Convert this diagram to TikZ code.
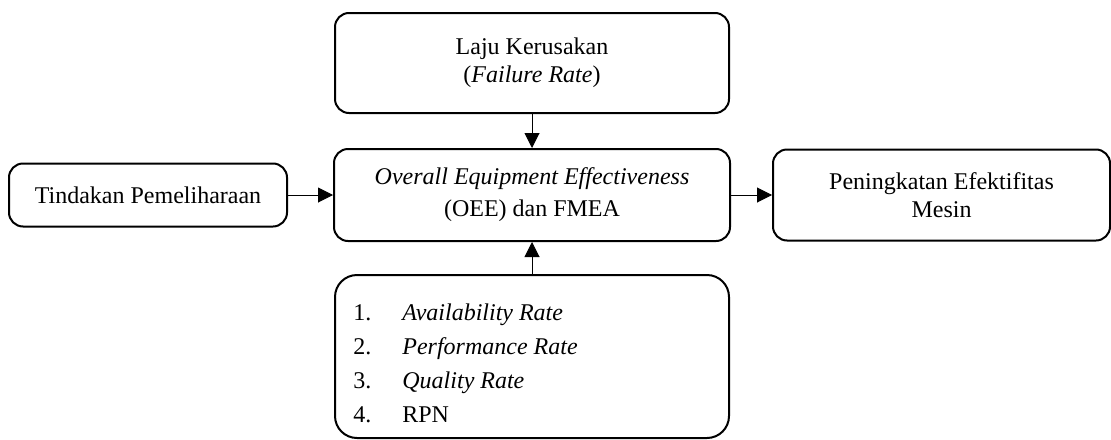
\documentclass[tikz,border=0pt]{standalone}
\usepackage{fontspec}
\setmainfont{Liberation Serif}
\usetikzlibrary{arrows.meta}

\tikzset{
  box/.style={draw, line width=1pt, rounded corners=7pt, inner sep=0pt, align=center},
  arr/.style={-{Triangle[length=7.5pt,width=7.5pt]}, line width=0.5pt}
}

\begin{document}
\begin{tikzpicture}[x=0.5pt, y=-0.5pt, font=\fontsize{12pt}{14pt}\selectfont]
\useasboundingbox (0,0) rectangle (1111,439);

\node (rate) at (532,63) [box, minimum width=197pt, minimum height=50pt] {Laju Kerusakan\\(\textit{Failure Rate})};
\node (oee) at (532,195) [box, minimum width=198pt, minimum height=46pt, font=\fontsize{12pt}{16pt}\selectfont] {\textit{Overall Equipment Effectiveness}\\(OEE) dan FMEA};
\node (tindakan) at (148,195) [box, minimum width=139pt, minimum height=31.5pt] {Tindakan Pemeliharaan};
\node (mesin) at (941.5,195) [box, minimum width=168.5pt, minimum height=45.5pt] {Peningkatan Efektifitas\\Mesin};
\node (list) at (532,356.5) [box, rounded corners=11pt, minimum width=197pt, minimum height=81.5pt] {};

\node (items) at (353,320) [anchor=base west, inner sep=0pt, font=\fontsize{12pt}{17pt}\selectfont]
  {\begin{tabular}[t]{@{}p{24.5pt}@{}l@{}}
   1. & \textit{Availability Rate}\\
   2. & \textit{Performance Rate}\\
   3. & \textit{Quality Rate}\\
   4. & RPN
   \end{tabular}};

\draw[arr] (rate) -- (oee);
\draw[arr] (tindakan) -- (oee);
\draw[arr] (oee) -- (mesin);
\draw[arr] (list) -- (oee);
\end{tikzpicture}
\end{document}
